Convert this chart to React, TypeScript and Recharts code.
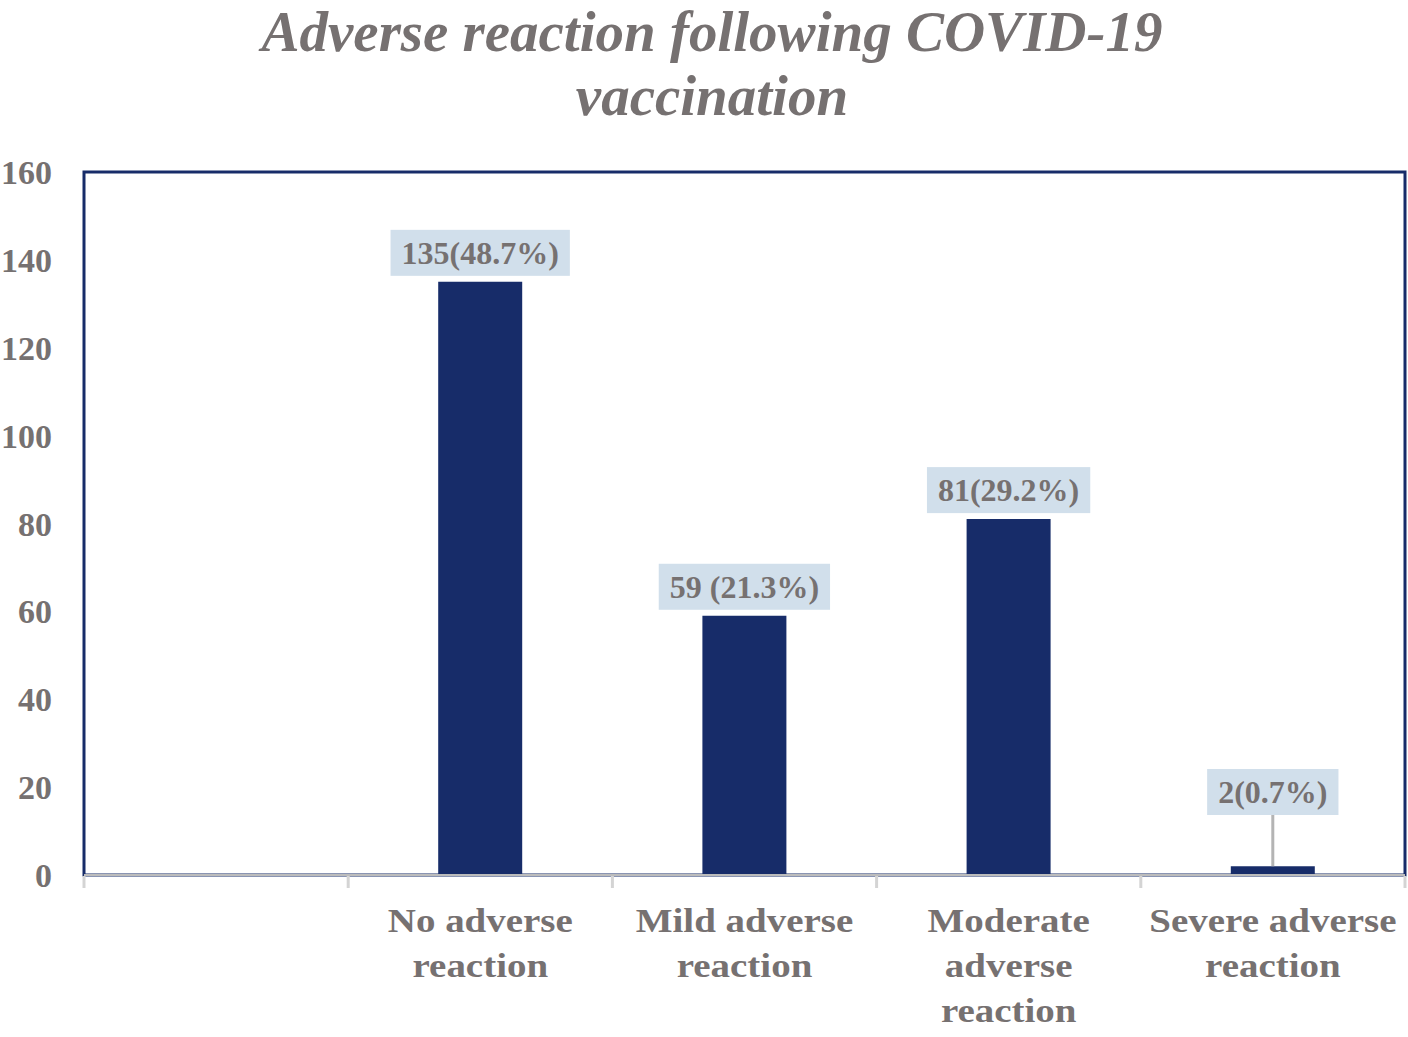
import React from "react";
import { BarChart, Bar, XAxis, YAxis, LabelList, ReferenceArea } from "recharts";

const categories = ["", "No adverse reaction", "Mild adverse reaction", "Moderate adverse reaction", "Severe adverse reaction"];
const tickLabelLines = [[], ["No adverse", "reaction"], ["Mild adverse", "reaction"], ["Moderate", "adverse", "reaction"], ["Severe adverse", "reaction"]];
const counts: (number | null)[] = [null, 135, 59, 81, 2];
const valueLabels = ["", "135(48.7%)", "59 (21.3%)", "81(29.2%)", "2(0.7%)"];
const yTicks = [0, 20, 40, 60, 80, 100, 120, 140, 160];
const boundaryTicks = [0, 1, 2, 3, 4, 5];
const titleLines = ["Adverse reaction following COVID-19", "vaccination"];

const data = categories.map((c, i) => ({ name: c, idx: i, count: counts[i], label: valueLabels[i] }));

const FONT = '"Liberation Serif", "Times New Roman", serif';
const GRAY = "#767171";
const NAVY = "#172c69";
const BOX = "#d1dfeb";

let ctx: CanvasRenderingContext2D | null = null;
const measure = (t: string, size: number) => {
  if (!ctx) ctx = document.createElement("canvas").getContext("2d");
  if (!ctx) return t.length * size * 0.5;
  ctx.font = `bold ${size}px ${FONT}`;
  return ctx.measureText(t).width;
};

const XTick = (props: any) => {
  const { x, y, payload, index } = props;
  const i0 = payload && payload.index != null ? payload.index : index;
  const lines = tickLabelLines[i0] || [];
  return (
    <g transform={`translate(${x},${y + 57}) scale(1.13,1)`}>
      <text x={0} y={0} textAnchor="middle" fill={GRAY} fontFamily={FONT} fontWeight="bold" fontSize={34.5}>
        {lines.map((l, i) => (
          <tspan key={i} x={0} dy={i === 0 ? 0 : 45}>{l}</tspan>
        ))}
      </text>
    </g>
  );
};

const EmptyTick = () => <g />;

const ValueLabel = (props: any) => {
  const { x, y, width, height, value } = props;
  if (!value) return null;
  const size = 32;
  const cx = x + width / 2;
  const bottom = y + height;
  let boxBottom = y - 6;
  let leader = false;
  if (boxBottom > bottom - 60) {
    boxBottom = bottom - 60;
    leader = true;
  }
  const w = measure(String(value), size) + 22;
  const h = 46;
  return (
    <g>
      {leader && <line x1={cx} x2={cx} y1={boxBottom} y2={y} stroke="#b4b4b4" strokeWidth={3} />}
      <rect x={cx - w / 2} y={boxBottom - h} width={w} height={h} fill={BOX} />
      <text x={cx} y={boxBottom - h / 2 + 11} textAnchor="middle" fill={GRAY} fontFamily={FONT} fontWeight="bold" fontSize={size}>
        {value}
      </text>
    </g>
  );
};

export default function App() {
  return (
    <div style={{ position: "absolute", left: 0, top: 0, width: 1408, height: 1037, background: "#fff" }}>
      <div
        style={{
          position: "absolute",
          left: 212,
          top: 0,
          width: 1000,
          textAlign: "center",
          fontFamily: FONT,
          fontWeight: "bold",
          fontStyle: "italic",
          fontSize: 57,
          lineHeight: "64px",
          color: GRAY,
        }}
      >
        {titleLines.map((l, i) => (
          <div key={i}>{l}</div>
        ))}
      </div>
      <BarChart width={1408} height={1037} data={data} margin={{ top: 172, right: 3, bottom: 160, left: 0 }}>
        <ReferenceArea xAxisId="grid" x1={0} x2={5} y1={0} y2={160} fill="none" stroke={NAVY} strokeWidth={3} fillOpacity={0} />
        <XAxis
          xAxisId="grid"
          type="number"
          dataKey="idx"
          domain={[0, 5]}
          ticks={boundaryTicks}
          tick={<EmptyTick />}
          tickSize={12}
          tickLine={{ stroke: "#d4d4d4", strokeWidth: 3 }}
          axisLine={false}
          height={1}
          allowDataOverflow
        />
        <XAxis
          dataKey="name"
          interval={0}
          height={1}
          tickLine={false}
          tickSize={0}
          tickMargin={0}
          axisLine={{ stroke: "#bcbcbc", strokeWidth: 2 }}
          tick={<XTick />}
        />
        <YAxis
          domain={[0, 160]}
          ticks={yTicks}
          width={84}
          axisLine={false}
          tickLine={false}
          tickSize={0}
          tickMargin={32}
          tick={{ fill: GRAY, fontFamily: FONT, fontWeight: "bold", fontSize: 34 }}
        />
        <Bar dataKey="count" fill={NAVY} barSize={84} isAnimationActive={false}>
          <LabelList dataKey="label" content={<ValueLabel />} />
        </Bar>
      </BarChart>
    </div>
  );
}
